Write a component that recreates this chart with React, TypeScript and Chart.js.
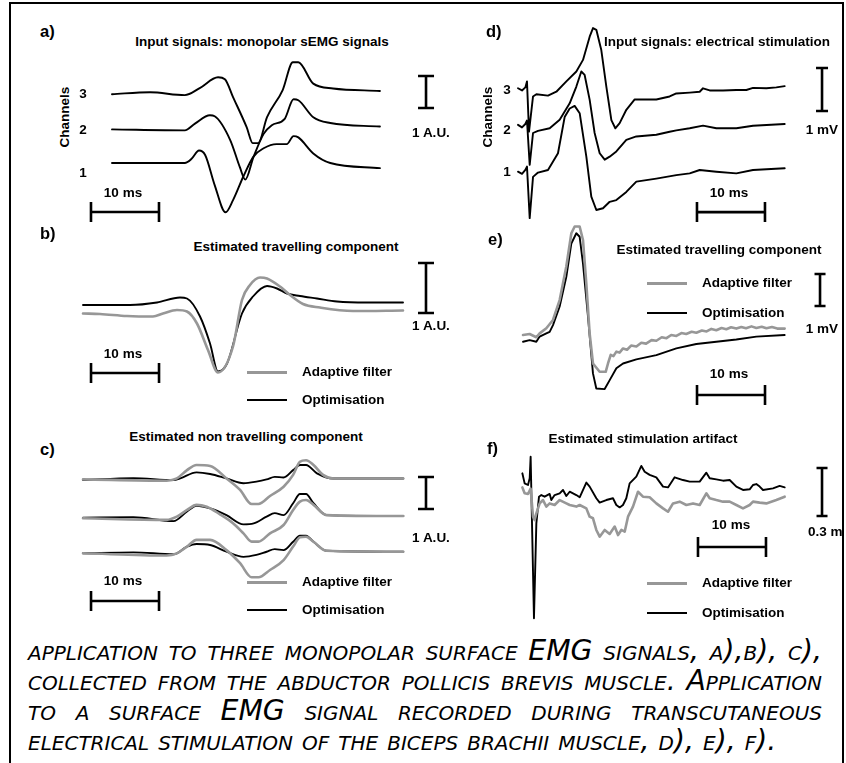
import React, { useEffect, useRef } from "react";
import { Chart, registerables } from "chart.js";

Chart.register(...registerables);

// ---------------- a) monopolar sEMG, 3 channels (time ms, amplitude A.U.) ----------------
const A_CH3_T = [0, 5.6, 10.7, 12.9, 15.6, 16.6, 17.8, 19.8, 20.7, 21.5, 22.8, 25.1, 26.6, 27.4, 29.6, 32.5, 39.4];
const A_CH3 = [0, 0.06, -0.03, 0.19, 0.53, 0.47, -0.09, -1.03, -1.53, -1.53, -0.72, 0.13, 1.0, 1.0, 0.33, 0.18, 0.1];
const A_CH2_T = [0, 10.7, 12.2, 14.4, 15.1, 17.4, 18.8, 19.6, 20.8, 22.3, 23.5, 25.4, 26.7, 27.4, 29.6, 32.1, 39.4];
const A_CH2 = [0, -0.03, 0.18, 0.44, 0.41, -0.34, -1.18, -1.57, -0.87, -0.14, 0.13, 0.33, 0.94, 0.91, 0.38, 0.2, 0.09];
const A_CH1_T = [0, 10.7, 11.7, 12.8, 13.7, 15.1, 16.7, 17.8, 19.3, 20.8, 22.3, 24.2, 25.7, 26.7, 27.4, 29.6, 32.1, 39.4];
const A_CH1 = [0, 0, 0.13, 0.39, 0.25, -0.69, -1.54, -1.16, -0.43, 0.2, 0.46, 0.59, 0.59, 0.84, 0.8, 0.3, 0, -0.16];
const A_OFFSETS = [0, 1.05, 2.15];

// ---------------- b) estimated travelling component ----------------
const B_AF_T = [0, 2.5, 6.47, 10.29, 11.76, 13.82, 15.29, 16.76, 18.38, 19.85, 22.06, 23.38, 24.56, 26.03, 27.06, 28.97, 30.44, 32.35, 34.85, 39.71, 47.06];
const B_AF = [-0.17, -0.18, -0.22, -0.23, -0.17, -0.1, -0.13, -0.37, -0.9, -1.35, -0.83, 0.1, 0.4, 0.55, 0.53, 0.37, 0.2, 0.02, -0.05, -0.12, -0.11];
const B_OPT_T = [0, 6.91, 10.88, 14.26, 15.29, 17.21, 18.68, 19.85, 21.18, 23.38, 25.0, 27.06, 28.53, 30.0, 31.91, 34.41, 37.35, 41.76, 47.06];
const B_OPT = [0, 0, 0.05, 0.15, 0.13, -0.23, -0.77, -1.33, -1.17, -0.17, 0.17, 0.38, 0.33, 0.23, 0.18, 0.13, 0.07, 0.05, 0.05];

// ---------------- c) estimated non travelling component (3 channels) ----------------
const C3_AF_T = [0, 12.3, 13.8, 15.3, 16.7, 18.7, 21.1, 23.1, 24.8, 25.8, 27.5, 29.5, 30.9, 31.9, 32.8, 33.9, 35.3, 36.8, 47.1];
const C3_AF = [-0.01, -0.05, 0.02, 0.28, 0.44, 0.41, 0.02, -0.34, -0.78, -0.78, -0.53, -0.24, 0.13, 0.54, 0.59, 0.44, 0.13, 0.02, 0.02];
const C2_AF_T = [0, 12.3, 13.8, 15.3, 16.7, 18.2, 20.1, 22.1, 23.6, 24.8, 25.8, 27.5, 29.5, 30.9, 31.9, 32.8, 33.9, 35.8, 47.1];
const C2_AF = [-0.04, -0.09, 0.01, 0.22, 0.38, 0.32, 0.09, -0.2, -0.51, -0.77, -0.77, -0.51, -0.25, 0.22, 0.48, 0.53, 0.38, 0.06, 0.03];
const C1_AF_T = [0, 12.3, 13.8, 15.3, 16.7, 18.7, 21.1, 23.1, 24.8, 25.8, 27.5, 29.5, 30.9, 31.9, 32.8, 33.9, 35.8, 47.1];
const C1_AF = [-0.01, -0.08, -0.01, 0.2, 0.41, 0.41, 0.09, -0.32, -0.76, -0.76, -0.53, -0.22, 0.2, 0.49, 0.51, 0.35, 0.07, 0.04];
const C3_OPT_T = [0, 7.4, 13.3, 14.3, 16.7, 18.7, 21.1, 23.6, 25.5, 27.0, 28.2, 29.5, 30.9, 31.9, 32.8, 34.4, 36.8, 47.1];
const C3_OPT = [-0.03, 0.03, -0.03, 0.02, 0.21, 0.16, 0.02, -0.13, -0.08, -0.01, 0.07, 0.05, 0.28, 0.44, 0.44, 0.18, 0.02, 0.02];
const C2_OPT_T = [0, 7.4, 13.3, 15.3, 16.7, 18.7, 21.1, 23.6, 25.1, 27.0, 28.2, 29.5, 30.9, 31.9, 32.8, 33.9, 35.8, 47.1];
const C2_OPT = [-0.02, -0.01, -0.13, 0.17, 0.35, 0.27, 0.06, -0.23, -0.2, 0.01, 0.12, 0.06, 0.43, 0.72, 0.72, 0.43, 0.06, 0.03];
const C1_OPT_T = [0, 7.4, 13.3, 15.3, 16.7, 18.7, 21.1, 23.6, 25.5, 27.0, 28.2, 29.5, 30.9, 31.9, 32.8, 33.9, 35.8, 47.1];
const C1_OPT = [-0.01, 0.02, -0.04, 0.2, 0.28, 0.25, 0.04, -0.12, -0.06, 0.04, 0.12, 0.09, 0.35, 0.54, 0.54, 0.35, 0.07, 0.04];
const C_OFFSETS = [0, 1.125, 2.31];

// ---------------- d) electrical stimulation input, 3 channels (ms, mV) ----------------
const D_CH3_T = [0, 0.59, 1.08, 1.32, 1.62, 2.21, 2.7, 4.41, 5.64, 7.11, 8.58, 9.56, 10.54, 11.03, 11.52, 12.25, 12.99, 13.73, 14.31, 14.95, 15.93, 17.16, 20.34, 22.3, 23.28, 25.25, 26.72, 27.21, 28.19, 30.15, 32.11, 33.58, 34.56, 36.52, 37.99, 39.22];
const D_CH3 = [0, -0.05, 0.02, 0.16, -1.01, -0.19, -0.14, -0.17, -0.08, 0.16, 0.39, 0.66, 1.2, 1.4, 1.36, 0.89, 0.04, -0.74, -0.93, -0.81, -0.5, -0.26, -0.26, -0.19, -0.12, -0.1, -0.08, 0, -0.05, -0.05, -0.04, -0.04, 0.01, 0, 0.02, 0.05];
const D_CH2_T = [0, 0.59, 1.08, 1.32, 1.72, 2.21, 2.94, 4.66, 6.13, 7.6, 8.58, 9.31, 9.8, 10.54, 11.27, 12.01, 12.75, 13.48, 14.46, 15.93, 17.4, 20.34, 22.3, 23.28, 25.25, 27.21, 29.17, 32.11, 34.56, 39.22];
const D_CH2 = [0, -0.06, 0.02, 0.1, -0.93, -0.19, -0.14, -0.08, 0.12, 0.5, 0.89, 1.24, 1.16, 0.58, -0.19, -0.66, -0.81, -0.74, -0.62, -0.35, -0.27, -0.23, -0.16, -0.13, -0.08, -0.02, -0.08, -0.08, -0.02, 0.02];
const D_CH1_T = [0, 0.59, 1.08, 1.32, 1.72, 2.21, 2.94, 4.41, 5.88, 6.86, 7.6, 8.33, 9.07, 10.05, 10.78, 11.52, 12.5, 13.48, 14.46, 15.93, 17.4, 20.34, 23.28, 25.25, 26.72, 29.17, 32.11, 34.56, 39.22];
const D_CH1 = [0, -0.05, 0.04, 0.12, -1.08, -0.12, -0.02, 0.04, 0.43, 1.27, 1.47, 1.53, 1.36, 0.35, -0.58, -0.89, -0.85, -0.7, -0.66, -0.47, -0.23, -0.16, -0.08, -0.04, 0.04, 0, -0.04, 0.04, 0.08];
const D_OFFSETS = [0, 1.09, 1.94];

// ---------------- e) estimated travelling component (ms, mV) ----------------
const E_AF_T = [0, 0.98, 1.96, 2.45, 3.43, 4.41, 5.39, 6.37, 7.11, 7.6, 8.33, 8.82, 9.31, 9.8, 10.29, 11.27, 12.16, 12.5, 12.9, 13.3, 13.73, 14.2, 14.71, 15.3, 15.9, 16.67, 17.4, 18.1, 18.9, 19.61, 20.4, 21.1, 21.8, 22.55, 23.3, 24.0, 24.8, 25.49, 26.3, 27.0, 27.7, 28.43, 29.2, 29.9, 30.6, 31.37, 32.1, 32.8, 33.6, 34.31, 35.1, 35.8, 36.6, 37.4, 38.48];
const E_AF = [0, 0.03, -0.07, 0.05, 0.21, 0.47, 1.09, 2.14, 3.18, 3.39, 3.39, 2.97, 1.61, 0.05, -0.89, -1.15, -1.15, -0.89, -0.62, -0.66, -0.52, -0.55, -0.42, -0.46, -0.33, -0.36, -0.24, -0.27, -0.16, -0.18, -0.07, -0.1, 0.0, -0.03, 0.06, 0.03, 0.1, 0.07, 0.14, 0.11, 0.19, 0.15, 0.22, 0.18, 0.24, 0.2, 0.25, 0.21, 0.27, 0.22, 0.26, 0.21, 0.25, 0.2, 0.2];
const E_OPT_T = [0, 0.98, 1.96, 2.45, 3.43, 3.92, 4.41, 5.39, 6.37, 7.11, 7.84, 8.33, 8.82, 9.56, 10.29, 10.78, 12.01, 12.75, 13.73, 14.71, 16.67, 19.61, 22.55, 25.49, 28.43, 31.37, 34.31, 38.48];
const E_OPT = [-0.21, -0.16, -0.21, -0.05, 0.05, 0.1, 0.31, 0.89, 1.82, 2.86, 3.18, 3.07, 2.24, 0.57, -1.2, -1.67, -1.69, -1.41, -1.04, -0.89, -0.76, -0.63, -0.42, -0.28, -0.21, -0.14, -0.05, 0];

// ---------------- f) estimated stimulation artifact (ms, mV) ----------------
const F_AF_T = [0.05, 0.39, 0.88, 1.27, 1.62, 1.86, 2.11, 2.6, 3.09, 3.58, 4.07, 4.8, 5.54, 6.52, 7.01, 7.99, 8.48, 9.46, 9.95, 10.44, 10.93, 11.42, 12.16, 12.89, 13.63, 14.12, 14.61, 15.1, 15.59, 16.32, 17.06, 17.79, 18.77, 19.75, 20.74, 21.47, 22.21, 23.19, 24.17, 25.15, 26.13, 27.11, 27.6, 28.58, 29.56, 30.54, 31.52, 32.5, 33.48, 33.97, 34.95, 35.93, 37.4, 38.63];
const F_AF = [-0.015, -0.052, -0.056, -0.023, -0.198, -0.219, -0.177, -0.115, -0.094, -0.135, -0.115, -0.125, -0.094, -0.115, -0.125, -0.135, -0.125, -0.146, -0.198, -0.208, -0.281, -0.323, -0.281, -0.306, -0.26, -0.313, -0.281, -0.292, -0.198, -0.135, -0.042, -0.073, -0.077, -0.115, -0.146, -0.167, -0.115, -0.104, -0.125, -0.115, -0.125, -0.052, -0.083, -0.094, -0.104, -0.104, -0.125, -0.146, -0.125, -0.104, -0.11, -0.115, -0.094, -0.073];
const F_OPT_T = [0.05, 0.39, 0.88, 1.13, 1.27, 1.76, 2.11, 2.5, 2.84, 3.33, 4.07, 4.31, 4.8, 5.54, 6.03, 6.52, 7.01, 7.99, 8.48, 9.46, 9.95, 10.93, 11.42, 12.4, 13.38, 13.87, 14.36, 14.85, 15.34, 15.83, 16.81, 17.55, 18.04, 18.77, 19.75, 20.74, 21.47, 22.45, 23.68, 24.66, 26.13, 27.11, 27.6, 28.58, 29.56, 30.54, 31.52, 32.5, 33.48, 33.97, 34.46, 34.95, 35.44, 36.91, 37.89, 38.63];
const F_OPT = [0.073, 0.01, 0, 0.042, 0.177, -0.833, -0.24, -0.073, -0.063, -0.073, -0.056, -0.094, -0.063, -0.052, -0.031, -0.069, -0.042, -0.063, -0.077, 0.015, -0.01, -0.083, -0.11, -0.094, -0.083, -0.125, -0.14, -0.125, -0.083, 0.01, 0.052, 0.119, 0.083, 0.063, 0.048, -0.01, -0.015, 0.048, 0.031, 0.021, 0.021, 0.077, 0.042, 0.035, 0.027, 0.031, -0.01, -0.031, -0.027, 0, 0.006, -0.01, -0.031, -0.021, -0.006, -0.015];

// ---------------- labels ----------------
const LEGEND_LABELS = ["Adaptive filter", "Optimisation"];
const CHANNEL_LABELS = ["1", "2", "3"];
const TIME_BAR_LABEL = "10 ms";

const BLACK = "#000000";
const GRAY = "#979797";
const FONT = '"Liberation Sans", Arial, Helvetica, sans-serif';

type Trace = { t: number[]; v: number[]; offset?: number; color: string; width: number };
type Geo = { box: { x: number; y: number; w: number; h: number }; x0: number; y0: number; pxMs: number; pxUnit: number };
type Bars = { hStart: number; hLen: number; hLevel: number; vT: number; vFrom: number; vLen: number; hCapPx: number; vCapPx: number };

function PanelChart({ geo, traces, bars, smooth = false }: { geo: Geo; traces: Trace[]; bars: Bars; smooth?: boolean }) {
  const ref = useRef<HTMLCanvasElement | null>(null);
  useEffect(() => {
    const { box, x0, y0, pxMs, pxUnit } = geo;
    const xMin = (box.x - x0) / pxMs;
    const xMax = (box.x + box.w - x0) / pxMs;
    const yMin = (y0 - (box.y + box.h)) / pxUnit;
    const yMax = (y0 - box.y) / pxUnit;
    const hc = bars.hCapPx / pxUnit;
    const vc = bars.vCapPx / pxMs;
    const h0 = bars.hStart, h1 = bars.hStart + bars.hLen, hl = bars.hLevel;
    const v0 = bars.vFrom, v1 = bars.vFrom + bars.vLen, vt = bars.vT;
    const barData = [
      { x: h0, y: hl - hc }, { x: h0, y: hl + hc }, { x: h0, y: null },
      { x: h0, y: hl }, { x: h1, y: hl }, { x: h1, y: null },
      { x: h1, y: hl - hc }, { x: h1, y: hl + hc }, { x: h1, y: null },
      { x: vt - vc, y: v0 }, { x: vt + vc, y: v0 }, { x: vt, y: null },
      { x: vt, y: v0 }, { x: vt, y: v1 }, { x: vt, y: null },
      { x: vt - vc, y: v1 }, { x: vt + vc, y: v1 },
    ];
    const datasets: any[] = traces.map((tr) => ({
      data: tr.t.map((t, i) => ({ x: t, y: tr.v[i] + (tr.offset || 0) })),
      borderColor: tr.color,
      borderWidth: tr.width,
      pointRadius: 0,
      tension: 0,
      cubicInterpolationMode: smooth ? "monotone" : "default",
      fill: false,
      borderJoinStyle: "round",
      borderCapStyle: "round",
    }));
    datasets.push({
      data: barData,
      borderColor: BLACK,
      borderWidth: 2.6,
      pointRadius: 0,
      tension: 0,
      fill: false,
      spanGaps: false,
      borderCapStyle: "butt",
    });
    const chart = new Chart(ref.current as HTMLCanvasElement, {
      type: "line",
      data: { datasets },
      options: {
        animation: false,
        responsive: false,
        maintainAspectRatio: false,
        events: [],
        layout: { padding: 0 },
        plugins: { legend: { display: false }, tooltip: { enabled: false }, title: { display: false } },
        scales: {
          x: { type: "linear", display: false, min: xMin, max: xMax },
          y: { type: "linear", display: false, min: yMin, max: yMax },
        },
      } as any,
    });
    return () => chart.destroy();
  }, []);
  const { box } = geo;
  return (
    <canvas
      ref={ref}
      width={box.w}
      height={box.h}
      style={{ position: "absolute", left: box.x, top: box.y, width: box.w, height: box.h }}
    />
  );
}

function Txt({ x, y, text, anchor = "start", size = 13.5, rotate = 0 }: { x: number; y: number; text: string; anchor?: "start" | "middle"; size?: number; rotate?: number }) {
  const tx = anchor === "middle" ? "-50%" : "0";
  return (
    <div
      style={{
        position: "absolute",
        left: x,
        top: y,
        whiteSpace: "nowrap",
        fontFamily: FONT,
        fontWeight: "bold",
        fontSize: size,
        lineHeight: 1,
        color: "#000",
        transform: `translate(${tx}, -50%)${rotate ? ` rotate(${rotate}deg)` : ""}`,
      }}
    >
      {text}
    </div>
  );
}

function LegendBlock({ x, y1, y2 }: { x: number; y1: number; y2: number }) {
  return (
    <>
      <div style={{ position: "absolute", left: x, top: y1 - 1.5, width: 40, height: 3, background: GRAY }} />
      <Txt x={x + 55} y={y1} text={LEGEND_LABELS[0]} />
      <div style={{ position: "absolute", left: x, top: y2 - 1.2, width: 40, height: 2.4, background: BLACK }} />
      <Txt x={x + 55} y={y2} text={LEGEND_LABELS[1]} />
    </>
  );
}

const GEO_A: Geo = { box: { x: 80, y: 50, w: 370, h: 185 }, x0: 112, y0: 163, pxMs: 6.8, pxUnit: 32 };
const GEO_B: Geo = { box: { x: 75, y: 255, w: 375, h: 140 }, x0: 83, y0: 305, pxMs: 6.8, pxUnit: 50 };
const GEO_C: Geo = { box: { x: 75, y: 450, w: 375, h: 175 }, x0: 83, y0: 553, pxMs: 6.8, pxUnit: 32 };
const GEO_D: Geo = { box: { x: 505, y: 15, w: 340, h: 215 }, x0: 518, y0: 171.7, pxMs: 6.8, pxUnit: 43 };
const GEO_E: Geo = { box: { x: 505, y: 215, w: 340, h: 200 }, x0: 523, y0: 335, pxMs: 6.8, pxUnit: 32 };
const GEO_F: Geo = { box: { x: 505, y: 440, w: 340, h: 190 }, x0: 522, y0: 485, pxMs: 6.8, pxUnit: 160 };

const BARS_A: Bars = { hStart: -3.09, hLen: 10, hLevel: -1.53, vT: 46.18, vFrom: 1.72, vLen: 1, hCapPx: 10, vCapPx: 8 };
const BARS_B: Bars = { hStart: 1.18, hLen: 10, hLevel: -1.36, vT: 50.44, vFrom: -0.16, vLen: 1, hCapPx: 10, vCapPx: 8 };
const BARS_C: Bars = { hStart: 1.18, hLen: 10, hLevel: -1.5, vT: 50.44, vFrom: 1.375, vLen: 1, hCapPx: 10, vCapPx: 8 };
const BARS_D: Bars = { hStart: 26.32, hLen: 10, hLevel: -0.94, vT: 44.71, vFrom: 1.41, vLen: 1, hCapPx: 10, vCapPx: 6 };
const BARS_E: Bars = { hStart: 25.59, hLen: 10, hLevel: -1.875, vT: 43.68, vFrom: 0.906, vLen: 1, hCapPx: 10, vCapPx: 5.5 };
const BARS_F: Bars = { hStart: 25.88, hLen: 10, hLevel: -0.3875, vT: 44.12, vFrom: -0.194, vLen: 0.3, hCapPx: 10, vCapPx: 5.5 };

const CAPTION_LINES = [
  "application to three monopolar surface EMG signals, a),b), c),",
  "collected from the abductor pollicis brevis muscle. Application",
  "to a surface EMG signal recorded during transcutaneous",
  "electrical stimulation of the biceps brachii muscle, d), e), f).",
];

export default function App() {
  return (
    <div style={{ position: "absolute", left: 0, top: 0, width: 846, height: 763, overflow: "hidden", background: "#fff" }}>
      <div style={{ position: "absolute", left: 9, top: 2, width: 835, height: 800, border: "2px solid #000", boxSizing: "border-box" }} />

      {/* a */}
      <PanelChart
        geo={GEO_A}
        bars={BARS_A}
        smooth
        traces={[
          { t: A_CH1_T, v: A_CH1, offset: A_OFFSETS[0], color: BLACK, width: 1.9 },
          { t: A_CH2_T, v: A_CH2, offset: A_OFFSETS[1], color: BLACK, width: 1.9 },
          { t: A_CH3_T, v: A_CH3, offset: A_OFFSETS[2], color: BLACK, width: 1.9 },
        ]}
      />
      <Txt x={40} y={31} text="a)" size={16.5} />
      <Txt x={262} y={42} text="Input signals: monopolar sEMG signals" anchor="middle" />
      <Txt x={65} y={117} text="Channels" anchor="middle" rotate={-90} />
      <Txt x={83} y={94} text={CHANNEL_LABELS[2]} anchor="middle" />
      <Txt x={83} y={130} text={CHANNEL_LABELS[1]} anchor="middle" />
      <Txt x={83} y={173} text={CHANNEL_LABELS[0]} anchor="middle" />
      <Txt x={123} y={193} text={TIME_BAR_LABEL} anchor="middle" />
      <Txt x={431} y={133} text="1 A.U." anchor="middle" />

      {/* b */}
      <PanelChart
        geo={GEO_B}
        bars={BARS_B}
        smooth
        traces={[
          { t: B_AF_T, v: B_AF, color: GRAY, width: 2.6 },
          { t: B_OPT_T, v: B_OPT, color: BLACK, width: 1.9 },
        ]}
      />
      <Txt x={40} y={233} text="b)" size={16.5} />
      <Txt x={296} y={247} text="Estimated travelling component" anchor="middle" />
      <Txt x={123} y={354} text={TIME_BAR_LABEL} anchor="middle" />
      <Txt x={431} y={326} text="1 A.U." anchor="middle" />
      <LegendBlock x={247} y1={372} y2={400} />

      {/* c */}
      <PanelChart
        geo={GEO_C}
        bars={BARS_C}
        smooth
        traces={[
          { t: C1_AF_T, v: C1_AF, offset: C_OFFSETS[0], color: GRAY, width: 2.6 },
          { t: C2_AF_T, v: C2_AF, offset: C_OFFSETS[1], color: GRAY, width: 2.6 },
          { t: C3_AF_T, v: C3_AF, offset: C_OFFSETS[2], color: GRAY, width: 2.6 },
          { t: C1_OPT_T, v: C1_OPT, offset: C_OFFSETS[0], color: BLACK, width: 1.9 },
          { t: C2_OPT_T, v: C2_OPT, offset: C_OFFSETS[1], color: BLACK, width: 1.9 },
          { t: C3_OPT_T, v: C3_OPT, offset: C_OFFSETS[2], color: BLACK, width: 1.9 },
        ]}
      />
      <Txt x={246} y={437} text="Estimated non travelling component" anchor="middle" />
      <Txt x={40} y={449} text="c)" size={16.5} />
      <Txt x={123} y={581} text={TIME_BAR_LABEL} anchor="middle" />
      <Txt x={431} y={538} text="1 A.U." anchor="middle" />
      <LegendBlock x={247} y1={582} y2={610} />

      {/* d */}
      <PanelChart
        geo={GEO_D}
        bars={BARS_D}
        traces={[
          { t: D_CH1_T, v: D_CH1, offset: D_OFFSETS[0], color: BLACK, width: 1.9 },
          { t: D_CH2_T, v: D_CH2, offset: D_OFFSETS[1], color: BLACK, width: 1.9 },
          { t: D_CH3_T, v: D_CH3, offset: D_OFFSETS[2], color: BLACK, width: 1.9 },
        ]}
      />
      <Txt x={486} y={31} text="d)" size={16.5} />
      <Txt x={717} y={42} text="Input signals: electrical stimulation" anchor="middle" />
      <Txt x={488} y={117} text="Channels" anchor="middle" rotate={-90} />
      <Txt x={507} y={90} text={CHANNEL_LABELS[2]} anchor="middle" />
      <Txt x={507} y={130} text={CHANNEL_LABELS[1]} anchor="middle" />
      <Txt x={507} y={172} text={CHANNEL_LABELS[0]} anchor="middle" />
      <Txt x={729} y={193} text={TIME_BAR_LABEL} anchor="middle" />
      <Txt x={822} y={130} text="1 mV" anchor="middle" />

      {/* e */}
      <PanelChart
        geo={GEO_E}
        bars={BARS_E}
        traces={[
          { t: E_AF_T, v: E_AF, color: GRAY, width: 2.6 },
          { t: E_OPT_T, v: E_OPT, color: BLACK, width: 1.9 },
        ]}
      />
      <Txt x={488} y={239} text="e)" size={16.5} />
      <Txt x={719} y={250} text="Estimated travelling component" anchor="middle" />
      <LegendBlock x={647} y1={283} y2={313} />
      <Txt x={822} y={329} text="1 mV" anchor="middle" />
      <Txt x={729} y={374} text={TIME_BAR_LABEL} anchor="middle" />

      {/* f */}
      <PanelChart
        geo={GEO_F}
        bars={BARS_F}
        traces={[
          { t: F_AF_T, v: F_AF, color: GRAY, width: 2.6 },
          { t: F_OPT_T, v: F_OPT, color: BLACK, width: 1.9 },
        ]}
      />
      <Txt x={643} y={439} text="Estimated stimulation artifact" anchor="middle" />
      <Txt x={487} y={448} text="f)" size={16.5} />
      <Txt x={731} y={525} text={TIME_BAR_LABEL} anchor="middle" />
      <div style={{ position: "absolute", left: 800, top: 520, width: 42, height: 26, overflow: "hidden" }}>
        <Txt x={8} y={12} text="0.3 mV" />
      </div>
      <LegendBlock x={647} y1={583} y2={613} />

      {/* caption */}
      <div
        style={{
          position: "absolute",
          left: 28,
          top: 636,
          width: 794,
          fontFamily: '"DejaVu Sans", Verdana, sans-serif',
          fontStyle: "italic",
          fontVariant: "small-caps",
          fontSize: 28.3,
          color: "#000",
        }}
      >
        {CAPTION_LINES.map((line, i) => (
          <div
            key={i}
            style={{
              height: 30,
              lineHeight: "30px",
              textAlign: i < 3 ? "justify" : "left",
              textAlignLast: i < 3 ? "justify" : "left",
            } as React.CSSProperties}
          >
            {line}
          </div>
        ))}
      </div>
    </div>
  );
}
